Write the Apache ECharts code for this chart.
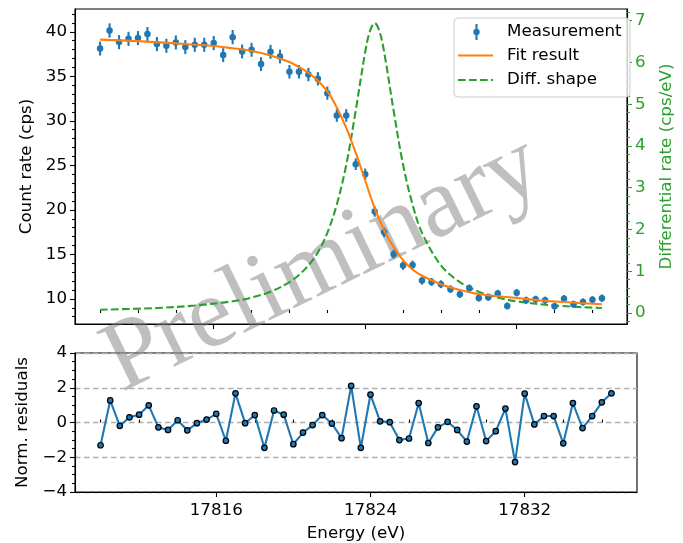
<!DOCTYPE html>
<html>
<head>
<meta charset="utf-8">
<script src="https://cdn.jsdelivr.net/npm/echarts@6/dist/echarts.min.js"></script>
<style>
  html, body { margin: 0; padding: 0; background: #fff; }
  #main { width: 683px; height: 543px; }
</style>
</head>
<body>
<div id="main"></div>
<script>
// measurement (0.5 eV bins)
const energies = [
  17810, 17810.5, 17811, 17811.5, 17812, 17812.5, 17813, 17813.5, 17814, 17814.5,
  17815, 17815.5, 17816, 17816.5, 17817, 17817.5, 17818, 17818.5, 17819, 17819.5,
  17820, 17820.5, 17821, 17821.5, 17822, 17822.5, 17823, 17823.5, 17824, 17824.5,
  17825, 17825.5, 17826, 17826.5, 17827, 17827.5, 17828, 17828.5, 17829, 17829.5,
  17830, 17830.5, 17831, 17831.5, 17832, 17832.5, 17833, 17833.5, 17834, 17834.5,
  17835, 17835.5, 17836, 17836.5
];
const counts = [
  38.12, 40.15, 38.84, 39.21, 39.29, 39.74, 38.62, 38.43, 38.80, 38.28,
  38.54, 38.54, 38.73, 37.38, 39.40, 37.79, 37.98, 36.37, 37.75, 37.22,
  35.51, 35.51, 35.20, 34.72, 33.11, 30.60, 30.60, 25.13, 24.01, 19.81,
  17.49, 15.02, 13.74, 13.82, 12.06, 11.91, 11.65, 11.09, 10.53, 11.20,
  10.11, 10.19, 10.60, 9.21, 10.70, 9.85, 9.96, 9.85, 9.18, 10.03,
  9.40, 9.66, 9.89, 10.08
];
const errors = [
  0.78, 0.80, 0.79, 0.79, 0.79, 0.80, 0.79, 0.79, 0.79, 0.78,
  0.79, 0.79, 0.79, 0.78, 0.80, 0.78, 0.78, 0.77, 0.78, 0.77,
  0.76, 0.76, 0.75, 0.75, 0.74, 0.71, 0.71, 0.65, 0.63, 0.58,
  0.54, 0.50, 0.48, 0.48, 0.45, 0.44, 0.44, 0.43, 0.42, 0.43,
  0.41, 0.41, 0.42, 0.39, 0.42, 0.40, 0.40, 0.40, 0.39, 0.41,
  0.40, 0.40, 0.41, 0.41
];
const residuals = [
  -1.31, 1.27, -0.19, 0.30, 0.45, 0.99, -0.28, -0.43, 0.13, -0.45,
  -0.04, 0.17, 0.50, -1.05, 1.68, -0.04, 0.43, -1.46, 0.69, 0.45,
  -1.25, -0.58, -0.15, 0.43, -0.06, -0.90, 2.11, -1.46, 1.61, 0.07,
  0.02, -1.01, -0.92, 1.12, -1.18, -0.28, 0.04, -0.43, -1.10, 0.93,
  -1.07, -0.50, 0.80, -2.28, 1.66, -0.11, 0.37, 0.37, -1.20, 1.12,
  -0.32, 0.37, 1.16, 1.68
];

// fit curve
const fitEnergies = [
  17810, 17812, 17814, 17816, 17817, 17818, 17819, 17820, 17820.5, 17821,
  17821.5, 17822, 17822.5, 17823, 17823.5, 17824, 17824.5, 17825, 17825.5, 17826,
  17826.5, 17827, 17828, 17829, 17830, 17832, 17834, 17836.5
];
const fitRates = [
  39.12, 38.95, 38.70, 38.40, 38.15, 37.85, 37.35, 36.60, 36.05, 35.40,
  34.50, 33.30, 31.50, 29.20, 26.40, 23.30, 20.20, 17.70, 15.80, 14.35,
  13.30, 12.60, 11.65, 11.00, 10.55, 10.10, 9.70, 9.40
];

// differential shape (right axis)
const diffEnergies = [
  17810, 17813, 17815, 17817, 17818, 17819, 17820, 17820.5, 17821, 17821.5,
  17822, 17822.5, 17823, 17823.5, 17824, 17824.25, 17824.5, 17824.75, 17825, 17825.5,
  17826, 17826.5, 17827, 17828, 17829, 17830, 17831, 17832, 17834, 17836.5
];
const diffRates = [
  0.08, 0.12, 0.18, 0.28, 0.37, 0.51, 0.74, 0.91, 1.14, 1.45,
  1.92, 2.60, 3.55, 4.85, 6.25, 6.75, 6.94, 6.75, 6.25, 4.85,
  3.55, 2.60, 1.92, 1.14, 0.74, 0.51, 0.37, 0.28, 0.18, 0.12
];

// ticks
const xMajorTicks = [17816, 17824, 17832];
const countTicks = [10, 15, 20, 25, 30, 35, 40];
const diffTicks = [0, 1, 2, 3, 4, 5, 6, 7];

const X_MIN = 17808.675, X_MAX = 17837.825;
const C_MIN = 7.18, C_MAX = 42.56;
const D_MIN = -0.263, D_MAX = 7.28;

const xMinorTicks = [];
for (let v = 17810; v <= 17836; v += 2) if (v % 8 !== 0) xMinorTicks.push(v);
const countMinor = [];
for (let v = 8; v <= 42; v++) if (v % 5 !== 0) countMinor.push(v);
const diffMinor = [];
for (let k = -1; k <= 36; k++) if (k % 5 !== 0) diffMinor.push(+(k * 0.2).toFixed(1));

const FONT = 'DejaVu Sans';
const FS = 16.7;
const BLUE = '#1f77b4', ORANGE = '#ff7f0e', GREEN = '#2ca02c';
const tickLine = {color: '#000', width: 1.1};

function majorX(grid, withLabels) {
  return {
    gridIndex: grid, type: 'value', min: X_MIN, max: X_MAX,
    axisLine: {show: true, onZero: false, lineStyle: tickLine},
    axisTick: {show: true, length: 5, customValues: xMajorTicks, lineStyle: tickLine},
    axisLabel: withLabels ? {
      show: true, customValues: xMajorTicks, margin: 10,
      color: '#000', fontFamily: FONT, fontSize: FS, formatter: v => String(v)
    } : {show: false},
    splitLine: {show: false}
  };
}
function minorX(grid) {
  return {
    gridIndex: grid, type: 'value', min: X_MIN, max: X_MAX,
    axisLine: {show: false},
    axisTick: {show: true, length: 3, customValues: xMinorTicks, lineStyle: tickLine},
    axisLabel: {show: false}, splitLine: {show: false}
  };
}

const chart = echarts.init(document.getElementById('main'));
chart.setOption({
  animation: false,
  backgroundColor: '#fff',
  textStyle: {fontFamily: FONT},
  grid: [
    {left: 75, right: 46, top: 9, height: 315, show: true, borderColor: '#000', borderWidth: 1.1},
    {left: 75, right: 46, top: 353, height: 142, show: true, borderColor: '#000', borderWidth: 1.1}
  ],
  xAxis: [
    majorX(0, false),
    minorX(0),
    Object.assign(majorX(1, true), {
      name: 'Energy (eV)', nameLocation: 'middle', nameGap: 33,
      nameTextStyle: {color: '#000', fontFamily: FONT, fontSize: FS}
    }),
    minorX(1)
  ],
  yAxis: [
    {
      gridIndex: 0, type: 'value', position: 'left', min: C_MIN, max: C_MAX,
      name: 'Count rate (cps)', nameLocation: 'middle', nameGap: 34, nameRotate: 90,
      nameTextStyle: {color: '#000', fontFamily: FONT, fontSize: FS},
      axisLine: {show: true, lineStyle: tickLine},
      axisTick: {show: true, length: 5, customValues: countTicks, lineStyle: tickLine},
      axisLabel: {customValues: countTicks, margin: 8, color: '#000', fontFamily: FONT, fontSize: FS},
      splitLine: {show: false}
    },
    {
      gridIndex: 0, type: 'value', position: 'right', min: D_MIN, max: D_MAX,
      name: 'Differential rate (cps/eV)', nameLocation: 'middle', nameGap: 31, nameRotate: 90,
      nameTextStyle: {color: GREEN, fontFamily: FONT, fontSize: FS},
      axisLine: {show: true, lineStyle: tickLine},
      axisTick: {show: true, length: 5, customValues: diffTicks, lineStyle: {color: GREEN, width: 1.1}},
      axisLabel: {customValues: diffTicks, margin: 8, color: GREEN, fontFamily: FONT, fontSize: FS},
      splitLine: {show: false}
    },
    {
      gridIndex: 0, type: 'value', position: 'left', min: C_MIN, max: C_MAX,
      axisLine: {show: false},
      axisTick: {show: true, length: 3, customValues: countMinor, lineStyle: tickLine},
      axisLabel: {show: false}, splitLine: {show: false}
    },
    {
      gridIndex: 0, type: 'value', position: 'right', min: D_MIN, max: D_MAX,
      axisLine: {show: false},
      axisTick: {show: true, length: 3, customValues: diffMinor, lineStyle: {color: GREEN, width: 1.1}},
      axisLabel: {show: false}, splitLine: {show: false}
    },
    {
      gridIndex: 1, type: 'value', position: 'left', min: -4, max: 4, interval: 2,
      name: 'Norm. residuals', nameLocation: 'middle', nameGap: 29, nameRotate: 90,
      nameTextStyle: {color: '#000', fontFamily: FONT, fontSize: FS},
      axisLine: {show: true, lineStyle: tickLine},
      axisTick: {show: true, length: 5, lineStyle: tickLine},
      minorTick: {show: true, splitNumber: 4, length: 3, lineStyle: tickLine},
      axisLabel: {margin: 8, color: '#000', fontFamily: FONT, fontSize: FS,
        formatter: v => String(v).replace('-', '\u2212')},
      splitLine: {show: true, lineStyle: {color: '#b0b0b0', width: 1.3, type: [5.5, 3.5]}}
    }
  ],
  series: [
    {
      name: 'Diff. shape', type: 'line', xAxisIndex: 0, yAxisIndex: 1,
      data: diffEnergies.map((e, i) => [e, diffRates[i]]),
      smooth: 0.35, showSymbol: false, symbol: 'none',
      lineStyle: {color: GREEN, width: 2.1, type: [7.7, 3.3]}, z: 2
    },
    {
      name: 'Measurement error', type: 'custom', xAxisIndex: 0, yAxisIndex: 0,
      data: energies.map((e, i) => [e, counts[i] - errors[i], counts[i] + errors[i]]),
      encode: {x: 0, y: [1, 2]},
      renderItem: (params, api) => {
        const a = api.coord([api.value(0), api.value(1)]);
        const b = api.coord([api.value(0), api.value(2)]);
        return {type: 'line', shape: {x1: a[0], y1: a[1], x2: b[0], y2: b[1]},
          style: {stroke: BLUE, lineWidth: 2.1}};
      },
      z: 3
    },
    {
      name: 'Measurement', type: 'scatter', xAxisIndex: 0, yAxisIndex: 0,
      data: energies.map((e, i) => [e, counts[i]]),
      symbol: 'circle', symbolSize: 6.5, itemStyle: {color: BLUE, opacity: 1}, z: 4
    },
    {
      name: 'Fit result', type: 'line', xAxisIndex: 0, yAxisIndex: 0,
      data: fitEnergies.map((e, i) => [e, fitRates[i]]),
      smooth: 0.35, showSymbol: false, symbol: 'none',
      lineStyle: {color: ORANGE, width: 2.1}, z: 5
    },
    {
      name: 'Residuals', type: 'line', xAxisIndex: 2, yAxisIndex: 4,
      data: energies.map((e, i) => [e, residuals[i]]),
      symbol: 'circle', symbolSize: 5.5, showSymbol: true,
      lineStyle: {color: BLUE, width: 2.1},
      itemStyle: {color: BLUE, borderColor: '#000', borderWidth: 1.2}, z: 4
    }
  ],
  graphic: [
    // watermark, under the data
    {type: 'text', z: 1, x: 323, y: 265, rotation: 26 * Math.PI / 180,
      style: {text: 'Preliminary', fill: 'rgba(128,128,128,0.5)', font: '100px "Liberation Serif"',
        align: 'center', verticalAlign: 'middle'}},
    // legend
    {type: 'rect', left: 453.5, top: 17.5, z: 50,
      shape: {width: 176, height: 79, r: 4},
      style: {fill: 'rgba(255,255,255,0.8)', stroke: '#cccccc', lineWidth: 1}},
    {type: 'line', z: 51, shape: {x1: 476.5, y1: 24, x2: 476.5, y2: 40}, style: {stroke: BLUE, lineWidth: 2.1}},
    {type: 'circle', z: 52, shape: {cx: 476.5, cy: 32, r: 3.2}, style: {fill: BLUE}},
    {type: 'line', z: 51, shape: {x1: 458, y1: 55.5, x2: 493, y2: 55.5}, style: {stroke: ORANGE, lineWidth: 2.1}},
    {type: 'line', z: 51, shape: {x1: 458, y1: 80, x2: 493, y2: 80}, style: {stroke: GREEN, lineWidth: 2.1, lineDash: [7.7, 3.3]}},
    {type: 'text', z: 52, x: 507, y: 32, style: {text: 'Measurement', fill: '#000', font: FS + 'px "DejaVu Sans"', verticalAlign: 'middle'}},
    {type: 'text', z: 52, x: 507, y: 55.5, style: {text: 'Fit result', fill: '#000', font: FS + 'px "DejaVu Sans"', verticalAlign: 'middle'}},
    {type: 'text', z: 52, x: 507, y: 80, style: {text: 'Diff. shape', fill: '#000', font: FS + 'px "DejaVu Sans"', verticalAlign: 'middle'}}
  ]
});
</script>
</body>
</html>
